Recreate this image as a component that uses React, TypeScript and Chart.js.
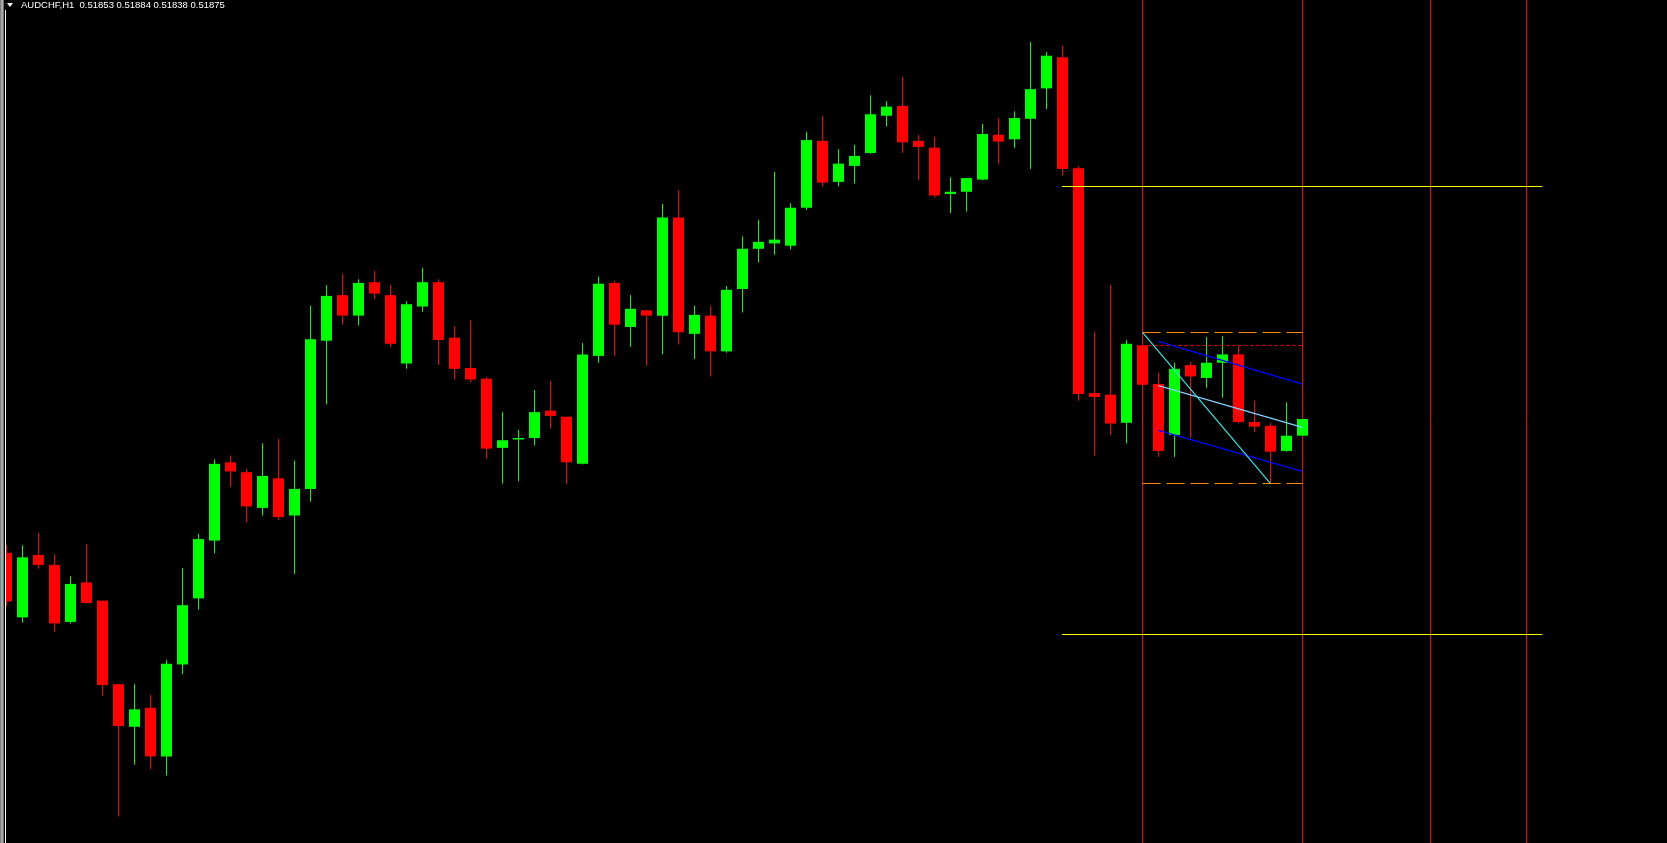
import React, { useEffect, useRef } from "react";
import { Chart, registerables } from "chart.js";

Chart.register(...registerables);

// ---- Data (AUDCHF, H1) ----
const symbolLabel = "AUDCHF,H1";

const opens = [
  0.51699, 0.51614, 0.51696, 0.51683, 0.51608, 0.51660, 0.51636, 0.51526, 0.51470, 0.51495,
  0.51431, 0.51552, 0.51639, 0.51715, 0.51818, 0.51805, 0.51758, 0.51797, 0.51748, 0.51783,
  0.51978, 0.52038, 0.52011, 0.52055, 0.52038, 0.51948, 0.52023, 0.52055, 0.51982, 0.51942,
  0.51928, 0.51837, 0.51848, 0.51850, 0.51886, 0.51878, 0.51816, 0.51958, 0.52054, 0.51996,
  0.52018, 0.52011, 0.52140, 0.51987, 0.52011, 0.51964, 0.52046, 0.52099, 0.52106, 0.52103,
  0.52153, 0.52241, 0.52187, 0.52208, 0.52225, 0.52274, 0.52287, 0.52241, 0.52232, 0.52171,
  0.52174, 0.52190, 0.52249, 0.52243, 0.52270, 0.52310, 0.52351, 0.52205, 0.51909, 0.51907,
  0.51870, 0.51972, 0.51921, 0.51854, 0.51946, 0.51929, 0.51949, 0.51960, 0.51871, 0.51866,
  0.51833, 0.51853,
];
const highs = [
  0.51709, 0.51709, 0.51725, 0.51697, 0.51668, 0.51711, 0.51636, 0.51526, 0.51526, 0.51512,
  0.51558, 0.51679, 0.51724, 0.51822, 0.51827, 0.51809, 0.51843, 0.51849, 0.51820, 0.52024,
  0.52051, 0.52066, 0.52059, 0.52070, 0.52051, 0.52030, 0.52074, 0.52059, 0.51997, 0.52005,
  0.51930, 0.51884, 0.51861, 0.51913, 0.51925, 0.51878, 0.51975, 0.52062, 0.52057, 0.52038,
  0.52018, 0.52158, 0.52176, 0.52024, 0.52024, 0.52050, 0.52115, 0.52137, 0.52200, 0.52159,
  0.52253, 0.52274, 0.52230, 0.52236, 0.52301, 0.52293, 0.52325, 0.52249, 0.52246, 0.52193,
  0.52192, 0.52263, 0.52271, 0.52280, 0.52371, 0.52358, 0.52366, 0.52208, 0.51990, 0.52051,
  0.51979, 0.51989, 0.51936, 0.51949, 0.51950, 0.51983, 0.51984, 0.51971, 0.51899, 0.51870,
  0.51897, 0.51884,
];
const lows = [
  0.51629, 0.51607, 0.51678, 0.51595, 0.51606, 0.51632, 0.51511, 0.51352, 0.51420, 0.51414,
  0.51406, 0.51539, 0.51624, 0.51698, 0.51786, 0.51739, 0.51748, 0.51742, 0.51671, 0.51766,
  0.51894, 0.51999, 0.51998, 0.52033, 0.51970, 0.51941, 0.52016, 0.51946, 0.51927, 0.51923,
  0.51823, 0.51790, 0.51793, 0.51840, 0.51862, 0.51789, 0.51815, 0.51949, 0.51958, 0.51970,
  0.51945, 0.51960, 0.51973, 0.51954, 0.51931, 0.51962, 0.52015, 0.52081, 0.52091, 0.52098,
  0.52150, 0.52181, 0.52181, 0.52185, 0.52224, 0.52260, 0.52225, 0.52189, 0.52166, 0.52146,
  0.52148, 0.52189, 0.52210, 0.52232, 0.52204, 0.52283, 0.52195, 0.51899, 0.51827, 0.51854,
  0.51843, 0.51918, 0.51825, 0.51825, 0.51850, 0.51916, 0.51903, 0.51869, 0.51858, 0.51790,
  0.51832, 0.51838,
];
const closes = [
  0.51635, 0.51693, 0.51683, 0.51606, 0.51658, 0.51633, 0.51525, 0.51471, 0.51493, 0.51431,
  0.51553, 0.51630, 0.51717, 0.51816, 0.51806, 0.51760, 0.51800, 0.51746, 0.51783, 0.51980,
  0.52037, 0.52011, 0.52054, 0.52040, 0.51974, 0.52026, 0.52055, 0.51979, 0.51941, 0.51927,
  0.51836, 0.51847, 0.51850, 0.51884, 0.51879, 0.51818, 0.51960, 0.52053, 0.51999, 0.52020,
  0.52011, 0.52140, 0.51989, 0.52012, 0.51964, 0.52045, 0.52099, 0.52108, 0.52111, 0.52153,
  0.52242, 0.52186, 0.52211, 0.52221, 0.52276, 0.52286, 0.52239, 0.52233, 0.52169, 0.52174,
  0.52192, 0.52250, 0.52240, 0.52271, 0.52309, 0.52353, 0.52204, 0.51908, 0.51904, 0.51869,
  0.51974, 0.51920, 0.51833, 0.51941, 0.51931, 0.51949, 0.51960, 0.51871, 0.51865, 0.51832,
  0.51853, 0.51875,
];

// Vertical period separators (bar indexes)
const separatorBars = [71, 81, 89, 95];
// Horizontal levels
const levelPrices = [0.52181, 0.51591];
const levelBars = [66, 96];
// Range box
const boxBars = [71, 81];
const boxPrices = [0.51989, 0.5179];
const boxOpenPrice = 0.51972;
// Regression channel
const channelBars = [72, 81];
const channelUpper = [0.51977, 0.51921];
const channelMiddle = [0.51919, 0.51864];
const channelLower = [0.5186, 0.51806];
// Swing line
const swingBars = [71, 79];
const swingPrices = [0.51989, 0.5179];

// Axis ranges
const xMin = -0.03125;
const xMax = 103.78125;
const yMin = 0.513171;
const yMax = 0.524263;

const BULL = "#00FF00";
const BEAR = "#FF0000";

const crisp = (v: number) => Math.floor(v) + 0.5;

function strokeSeg(
  ctx: CanvasRenderingContext2D,
  x1: number, y1: number, x2: number, y2: number,
  color: string, width = 1, dash: number[] = []
) {
  ctx.save();
  ctx.beginPath();
  ctx.setLineDash(dash);
  ctx.strokeStyle = color;
  ctx.lineWidth = width;
  ctx.moveTo(x1, y1);
  ctx.lineTo(x2, y2);
  ctx.stroke();
  ctx.restore();
}

const mtPlugin = {
  id: "mtOverlay",
  beforeDraw(chart: any) {
    const ctx = chart.ctx as CanvasRenderingContext2D;
    ctx.save();
    ctx.fillStyle = "#000000";
    ctx.fillRect(0, 0, chart.width, chart.height);
    ctx.restore();
  },
  beforeDatasetDraw(chart: any, args: any) {
    if (args.index !== 0) return;
    const ctx = chart.ctx as CanvasRenderingContext2D;
    const xs = chart.scales.x;
    const area = chart.chartArea;
    for (const b of separatorBars) {
      const x = crisp(xs.getPixelForValue(b));
      strokeSeg(ctx, x, area.top, x, area.bottom, "#FF0000", 1);
    }
  },
  afterDatasetsDraw(chart: any) {
    const ctx = chart.ctx as CanvasRenderingContext2D;
    const xs = chart.scales.x;
    const ys = chart.scales.y;
    const px = (v: number) => xs.getPixelForValue(v);
    const py = (v: number) => ys.getPixelForValue(v);

    // horizontal levels
    for (const p of levelPrices) {
      const y = crisp(py(p));
      strokeSeg(ctx, px(levelBars[0]) - 0.5, y, px(levelBars[1]), y, "#FFFF00", 1);
    }
    // range box (dashed orange)
    for (const p of boxPrices) {
      const y = crisp(py(p));
      strokeSeg(ctx, crisp(px(boxBars[0])), y, crisp(px(boxBars[1])), y, "#FF8C00", 1, [18, 6]);
    }
    // open level (dotted red)
    {
      const y = crisp(py(boxOpenPrice));
      strokeSeg(ctx, crisp(px(boxBars[0])) + 6, y, crisp(px(boxBars[1])), y, "#FF0000", 1, [3, 3]);
    }
    // channel
    const ch = [
      { v: channelUpper, c: "#0000FF" },
      { v: channelLower, c: "#0000FF" },
      { v: channelMiddle, c: "#87CEFA" },
    ];
    for (const l of ch) {
      strokeSeg(ctx, px(channelBars[0]), py(l.v[0]), px(channelBars[1]), py(l.v[1]), l.c, 1.3);
    }
    // swing line
    strokeSeg(ctx, px(swingBars[0]), py(swingPrices[0]), px(swingBars[1]), py(swingPrices[1]), "#40E0E0", 1.2);

    // left frame
    ctx.save();
    ctx.fillStyle = "#000000";
    ctx.fillRect(0, 0, 6, chart.height);
    ctx.fillStyle = "#808080";
    ctx.fillRect(0, 0, 1, chart.height);
    ctx.fillStyle = "#A8A8A8";
    ctx.fillRect(1, 0, 2, chart.height);
    ctx.fillStyle = "#707070";
    ctx.fillRect(3, 0, 1, chart.height);
    ctx.fillStyle = "#FFFFFF";
    ctx.fillRect(5, 0, 1, chart.height);
    ctx.restore();

    // title
    const last = opens.length - 1;
    const fmt = (v: number) => v.toFixed(5);
    const title = `${symbolLabel}  ${fmt(opens[last])} ${fmt(highs[last])} ${fmt(lows[last])} ${fmt(closes[last])}`;
    ctx.save();
    ctx.fillStyle = "#000000";
    ctx.fillRect(4, 0, 14, 10);
    ctx.fillStyle = "#FFFFFF";
    ctx.beginPath();
    ctx.moveTo(7, 3);
    ctx.lineTo(13, 3);
    ctx.lineTo(10, 7);
    ctx.closePath();
    ctx.fill();
    ctx.font = "9.5px 'Liberation Sans', Arial, sans-serif";
    ctx.textBaseline = "alphabetic";
    ctx.fillText(title, 21, 8);
    ctx.restore();
  },
};

export default function App() {
  const ref = useRef<HTMLCanvasElement | null>(null);

  useEffect(() => {
    document.body.style.margin = "0";
    document.body.style.background = "#000";
    document.body.style.overflow = "hidden";
    const canvas = ref.current;
    if (!canvas) return;

    const colors = opens.map((o, i) => (closes[i] >= o ? BULL : BEAR));

    const chart = new Chart(canvas, {
      type: "bar",
      data: {
        datasets: [
          {
            label: "body",
            data: opens.map((o, i) => ({ x: i, y: [o, closes[i]] })) as any,
            backgroundColor: colors,
            borderWidth: 0,
            barThickness: 11,
            inflateAmount: 0,
            grouped: false,
            clip: 0,
          } as any,
          {
            label: "wick",
            data: opens.map((_, i) => ({ x: i, y: [lows[i], highs[i]] })) as any,
            backgroundColor: colors,
            borderWidth: 0,
            barThickness: 1,
            inflateAmount: 0,
            grouped: false,
            clip: 0,
          } as any,
        ],
      },
      options: {
        responsive: false,
        maintainAspectRatio: false,
        devicePixelRatio: 1,
        animation: false,
        events: [],
        layout: { padding: { left: 6, right: 0, top: 0, bottom: 0 } },
        plugins: {
          legend: { display: false },
          title: { display: false },
          tooltip: { enabled: false },
        },
        scales: {
          x: {
            type: "linear",
            min: xMin,
            max: xMax,
            offset: false,
            display: false,
            grid: { display: false },
          },
          y: {
            type: "linear",
            min: yMin,
            max: yMax,
            beginAtZero: false,
            display: false,
            grid: { display: false },
          },
        },
      } as any,
      plugins: [mtPlugin],
    });

    return () => chart.destroy();
  }, []);

  return (
    <div style={{ width: 1667, height: 843, background: "#000" }}>
      <canvas ref={ref} width={1667} height={843} style={{ display: "block" }} />
    </div>
  );
}
